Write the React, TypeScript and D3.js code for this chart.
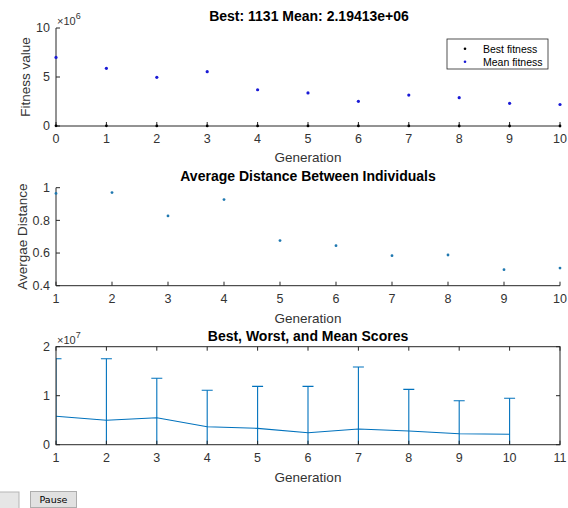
import * as d3 from "d3";

// ---- data ----
const generations = [0, 1, 2, 3, 4, 5, 6, 7, 8, 9, 10];
// fitness values in units of 1e6
const bestFitness = [0.02, 0.015, 0.01, 0.008, 0.006, 0.005, 0.004, 0.003, 0.002, 0.0015, 0.001131];
const meanFitness = [7.0, 5.89, 4.97, 5.54, 3.7, 3.37, 2.52, 3.16, 2.89, 2.31, 2.19413];
const fitnessTicks = [0, 5, 10];

const distGenerations = [1, 2, 3, 4, 5, 6, 7, 8, 9, 10];
const avgDistance = [0.965, 0.97, 0.827, 0.927, 0.676, 0.645, 0.584, 0.588, 0.498, 0.508];
const distanceTicks = [0.4, 0.6, 0.8, 1];

const scoreGenerations = [1, 2, 3, 4, 5, 6, 7, 8, 9, 10];
// scores in units of 1e7
const bestScores = [0.002, 0.0015, 0.001, 0.0008, 0.0006, 0.0005, 0.0004, 0.0003, 0.0002, 0.0001];
const worstScores = [1.755, 1.755, 1.355, 1.11, 1.19, 1.19, 1.586, 1.13, 0.898, 0.947];
const meanScores = [0.58, 0.498, 0.551, 0.367, 0.334, 0.245, 0.32, 0.28, 0.225, 0.212];
const scoreTicks = [0, 1, 2];

const FONT = "Liberation Sans, Arial, Helvetica, sans-serif";
const AXIS = "#262626";
const LABEL = "#333";
const BLUE = "#0072BD";
const TICK_FS = 12.5;
const LABEL_FS = 13.5;
const TITLE_FS = 14;

const L = 56;
const R = 560;

export default function App() {
  // panel 1
  const x1 = d3.scaleLinear().domain([0, 10]).range([L, R]);
  const y1 = d3.scaleLinear().domain([0, 10]).range([126, 28]);
  // panel 2
  const x2 = d3.scaleLinear().domain([1, 10]).range([L, R]);
  const y2 = d3.scaleLinear().domain([0.4, 1]).range([285.7, 187.7]);
  // panel 3
  const x3 = d3.scaleLinear().domain([1, 11]).range([L, R]);
  const y3 = d3.scaleLinear().domain([0, 2]).range([444.7, 346.7]);

  const meanLine = d3
    .line<number>()
    .x((_, i) => x3(scoreGenerations[i]))
    .y((d) => y3(d));

  const tickLen = 4;

  return (
    <svg
      width={568}
      height={508}
      style={{ position: "fixed", left: 0, top: 0, background: "#fff" }}
      fontFamily={FONT}
    >
      <rect x={0} y={0} width={568} height={508} fill="#fff" />

      {/* ===== Panel 1 ===== */}
      <text x={309} y={20.5} textAnchor="middle" fontWeight="bold" fontSize={TITLE_FS} fill="#000">
        Best: 1131 Mean: 2.19413e+06
      </text>
      <text x={57} y={25} fontSize={11} fill={LABEL}>
        ×10
        <tspan dy={-6} fontSize={9}>6</tspan>
      </text>
      <line x1={L} x2={L} y1={y1(10)} y2={y1(0)} stroke={AXIS} />
      <line x1={L} x2={R} y1={y1(0)} y2={y1(0)} stroke={AXIS} />
      {generations.map((g) => (
        <g key={"x1" + g}>
          <line x1={x1(g)} x2={x1(g)} y1={y1(0)} y2={y1(0) - tickLen} stroke={AXIS} />
          <text x={x1(g)} y={142.7} textAnchor="middle" fontSize={TICK_FS} fill={LABEL}>
            {g}
          </text>
        </g>
      ))}
      {fitnessTicks.map((t) => (
        <g key={"y1" + t}>
          <line x1={L} x2={L + tickLen} y1={y1(t)} y2={y1(t)} stroke={AXIS} />
          <text x={50} y={y1(t) + 4.3} textAnchor="end" fontSize={TICK_FS} fill={LABEL}>
            {t}
          </text>
        </g>
      ))}
      <text x={308} y={161.5} textAnchor="middle" fontSize={LABEL_FS} fill={LABEL}>
        Generation
      </text>
      <text
        transform={`translate(30,${77}) rotate(-90)`}
        textAnchor="middle"
        fontSize={LABEL_FS}
        fill={LABEL}
      >
        Fitness value
      </text>
      {generations.map((g, i) => (
        <circle key={"b" + g} cx={x1(g)} cy={y1(bestFitness[i])} r={1.4} fill="#000" />
      ))}
      {generations.map((g, i) => (
        <circle key={"m" + g} cx={x1(g)} cy={y1(meanFitness[i])} r={1.6} fill="#1a1ad6" />
      ))}
      {/* legend */}
      <rect x={447} y={39} width={101} height={30} fill="#fff" stroke={AXIS} strokeWidth={0.8} />
      <circle cx={465} cy={48.8} r={1.3} fill="#000" />
      <circle cx={465} cy={61.8} r={1.3} fill="#1a1ad6" />
      <text x={483} y={52.5} fontSize={10.5} fill="#000">
        Best fitness
      </text>
      <text x={483} y={65.5} fontSize={10.5} fill="#000">
        Mean fitness
      </text>

      {/* ===== Panel 2 ===== */}
      <text x={308} y={181} textAnchor="middle" fontWeight="bold" fontSize={TITLE_FS} fill="#000">
        Average Distance Between Individuals
      </text>
      <line x1={L} x2={L} y1={y2(1)} y2={y2(0.4)} stroke={AXIS} />
      <line x1={L} x2={R} y1={y2(0.4)} y2={y2(0.4)} stroke={AXIS} />
      {distGenerations.map((g) => (
        <g key={"x2" + g}>
          <line x1={x2(g)} x2={x2(g)} y1={y2(0.4)} y2={y2(0.4) - tickLen} stroke={AXIS} />
          <text x={x2(g)} y={303.3} textAnchor="middle" fontSize={TICK_FS} fill={LABEL}>
            {g}
          </text>
        </g>
      ))}
      {distanceTicks.map((t) => (
        <g key={"y2" + t}>
          <line x1={L} x2={L + tickLen} y1={y2(t)} y2={y2(t)} stroke={AXIS} />
          <text x={50} y={y2(t) + 4.3} textAnchor="end" fontSize={TICK_FS} fill={LABEL}>
            {t}
          </text>
        </g>
      ))}
      <text x={308} y={322.5} textAnchor="middle" fontSize={LABEL_FS} fill={LABEL}>
        Generation
      </text>
      <text
        transform={`translate(27,${236.7}) rotate(-90)`}
        textAnchor="middle"
        fontSize={LABEL_FS}
        fill={LABEL}
      >
        Avergae Distance
      </text>
      {distGenerations.map((g, i) => (
        <circle key={"d" + g} cx={x2(g)} cy={y2(avgDistance[i])} r={1.4} fill="#1f78b0" />
      ))}

      {/* ===== Panel 3 ===== */}
      <defs>
        <clipPath id="clip3">
          <rect x={L} y={y3(2)} width={R - L} height={y3(0) - y3(2)} />
        </clipPath>
      </defs>
      <text x={308} y={340.5} textAnchor="middle" fontWeight="bold" fontSize={TITLE_FS} fill="#000">
        Best, Worst, and Mean Scores
      </text>
      <text x={57} y={344} fontSize={11} fill={LABEL}>
        ×10
        <tspan dy={-6} fontSize={9}>7</tspan>
      </text>
      <g clipPath="url(#clip3)">
        {scoreGenerations.map((g, i) => (
          <g key={"e" + g} stroke={BLUE} strokeWidth={1.1}>
            <line x1={x3(g)} x2={x3(g)} y1={y3(bestScores[i])} y2={y3(worstScores[i])} />
            <line x1={x3(g) - 5.5} x2={x3(g) + 5.5} y1={y3(worstScores[i])} y2={y3(worstScores[i])} />
          </g>
        ))}
        <path d={meanLine(meanScores) || ""} fill="none" stroke={BLUE} strokeWidth={1.1} />
      </g>
      <rect
        x={L}
        y={y3(2)}
        width={R - L}
        height={y3(0) - y3(2)}
        fill="none"
        stroke={AXIS}
        strokeWidth={1}
      />
      {d3.range(1, 12).map((g) => (
        <g key={"x3" + g}>
          <line x1={x3(g)} x2={x3(g)} y1={y3(0)} y2={y3(0) - tickLen} stroke={AXIS} />
          <line x1={x3(g)} x2={x3(g)} y1={y3(2)} y2={y3(2) + tickLen} stroke={AXIS} />
          <text x={x3(g)} y={461.5} textAnchor="middle" fontSize={TICK_FS} fill={LABEL}>
            {g}
          </text>
        </g>
      ))}
      {scoreTicks.map((t) => (
        <g key={"y3" + t}>
          <line x1={L} x2={L + tickLen} y1={y3(t)} y2={y3(t)} stroke={AXIS} />
          <line x1={R} x2={R - tickLen} y1={y3(t)} y2={y3(t)} stroke={AXIS} />
          <text x={50} y={y3(t) + 4.3} textAnchor="end" fontSize={TICK_FS} fill={LABEL}>
            {t}
          </text>
        </g>
      ))}
      <text x={308} y={481.5} textAnchor="middle" fontSize={LABEL_FS} fill={LABEL}>
        Generation
      </text>

      {/* ===== buttons ===== */}
      <rect x={-2} y={492} width={21} height={17} fill="#e6e6e6" stroke="#b5b5b5" />
      <rect x={30.5} y={491.5} width={46} height={16} fill="#e1e1e1" stroke="#adadad" />
      <text x={53.5} y={503} textAnchor="middle" fontSize={9.5} fill="#000" fontFamily="DejaVu Sans, sans-serif">
        Pause
      </text>
    </svg>
  );
}
